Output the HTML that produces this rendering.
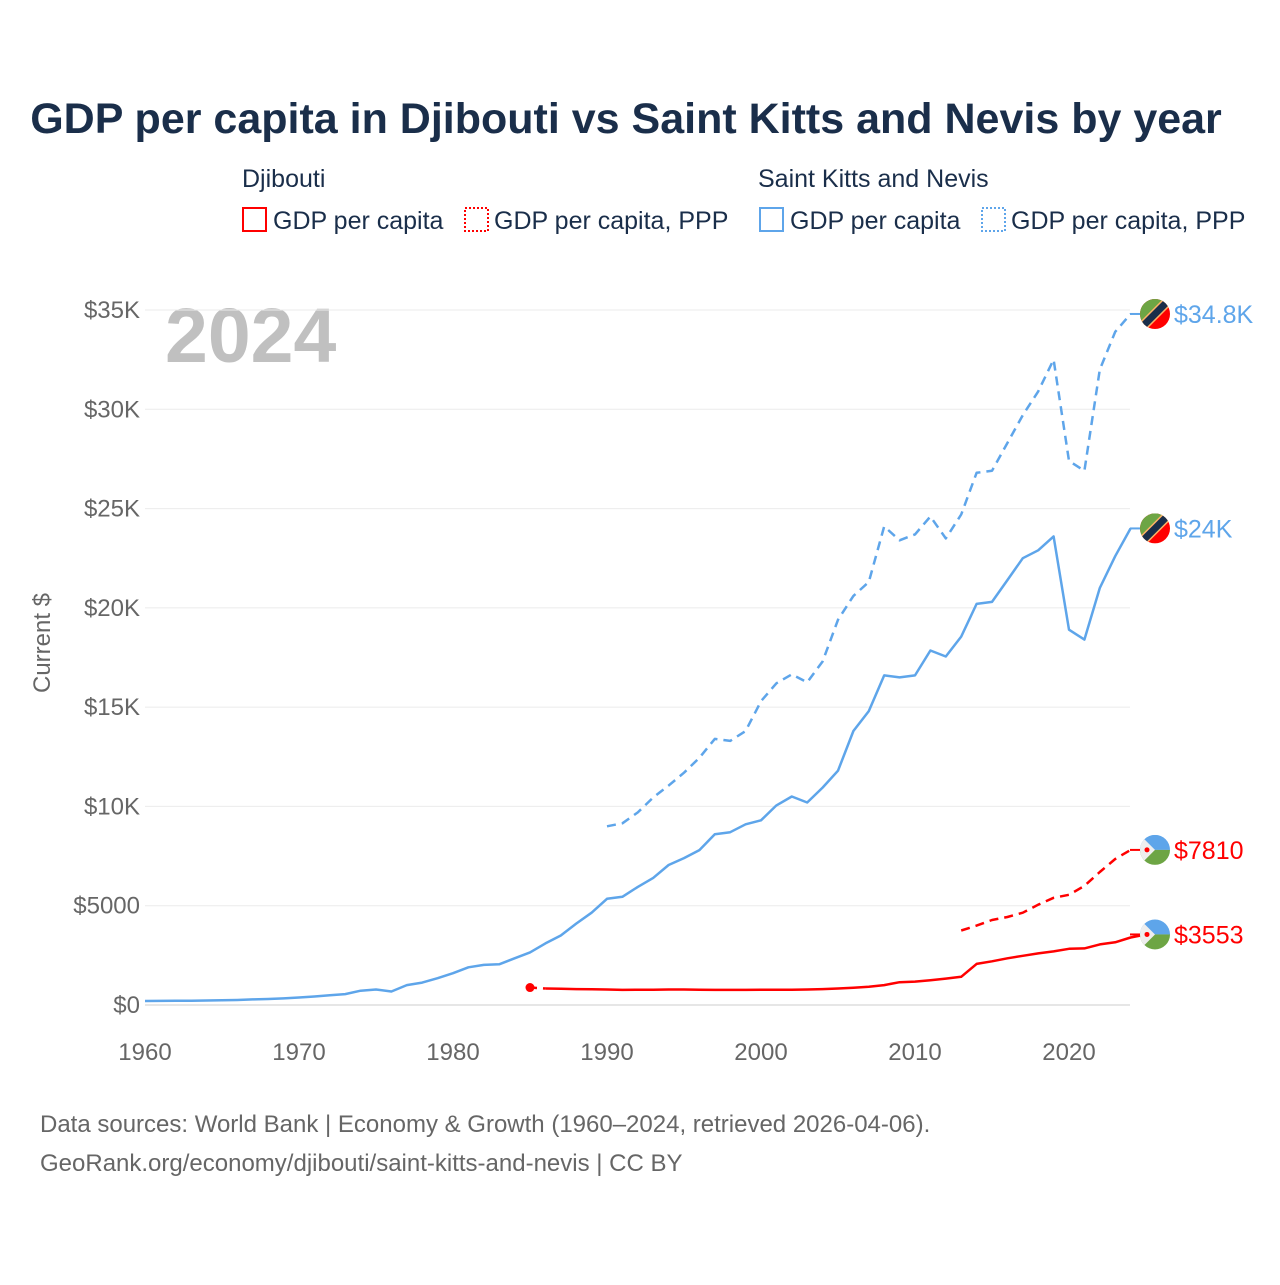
<!DOCTYPE html>
<html><head><meta charset="utf-8"><style>
body{margin:0;background:#fff;}
svg text{font-family:"Liberation Sans",sans-serif;}
</style></head><body>
<svg id="chart" width="1280" height="1280" xmlns="http://www.w3.org/2000/svg">
<rect width="1280" height="1280" fill="#fff"/>
<text x="626" y="133" text-anchor="middle" font-size="43" font-weight="bold" fill="#1a2e4a">GDP per capita in Djibouti vs Saint Kitts and Nevis by year</text>
<g font-size="25" fill="#1a2e4a">
<text x="242" y="187">Djibouti</text>
<text x="758" y="187">Saint Kitts and Nevis</text>
<g><rect x="243" y="208" width="23" height="23" fill="none" stroke="#f00" stroke-width="2"/><text x="273" y="229">GDP per capita</text></g>
<g><rect x="465" y="208" width="23" height="23" fill="none" stroke="#f00" stroke-width="2" stroke-dasharray="2,2"/><text x="494" y="229">GDP per capita, PPP</text></g>
<g><rect x="760" y="208" width="23" height="23" fill="none" stroke="#5ea5ea" stroke-width="2"/><text x="790" y="229">GDP per capita</text></g>
<g><rect x="982" y="208" width="23" height="23" fill="none" stroke="#5ea5ea" stroke-width="2" stroke-dasharray="2,2"/><text x="1011" y="229">GDP per capita, PPP</text></g>
</g>
<text x="165" y="362" font-size="77" font-weight="bold" fill="#c0c0c0">2024</text>
<text transform="translate(50,643) rotate(-90)" text-anchor="middle" font-size="24" fill="#666">Current $</text>
<g id="grid"></g><g id="yt"></g><g id="xt"></g><g id="lines"></g><g id="ends"></g>
<text x="40" y="1132" font-size="24" fill="#666">Data sources: World Bank | Economy &amp; Growth (1960–2024, retrieved 2026-04-06).</text>
<text x="40" y="1171" font-size="24" fill="#666">GeoRank.org/economy/djibouti/saint-kitts-and-nevis | CC BY</text>
</svg>
<script>
const yTicks=[0,5000,10000,15000,20000,25000,30000,35000];
const yTickLabels=["$0","$5000","$10K","$15K","$20K","$25K","$30K","$35K"];
const xTicks=[1960,1970,1980,1990,2000,2010,2020];
const sknGdpStart=1960;
const sknGdp=[200,205,210,215,225,235,250,280,300,330,380,430,490,550,720,780,680,1000,1130,1350,1600,1900,2020,2050,2350,2650,3100,3500,4100,4650,5350,5450,5950,6400,7050,7400,7800,8600,8700,9100,9300,10050,10500,10200,10950,11800,13800,14800,16600,16500,16600,17850,17550,18550,20200,20300,21400,22500,22900,23600,18900,18400,21000,22600,24000];
const sknPppStart=1990;
const sknPpp=[9000,9150,9700,10450,11050,11700,12450,13400,13300,13800,15300,16200,16650,16250,17300,19400,20600,21300,24100,23400,23700,24600,23500,24700,26800,26900,28300,29700,30900,32500,27400,26900,32000,33900,34800];
const djGdpStart=1986;
const djGdp=[830,820,800,790,780,760,770,770,780,780,770,760,760,760,770,770,770,780,800,830,870,920,1000,1150,1180,1250,1330,1420,2070,2200,2350,2480,2600,2700,2830,2850,3050,3160,3400,3553];
const djFirst=[1985,880];
const djPppStart=2013;
const djPpp=[3750,4000,4280,4430,4650,5050,5400,5550,6000,6700,7350,7810];
const endLabels=["$34.8K","$24K","$7810","$3553"];
const NS="http://www.w3.org/2000/svg";
const X=y=>145+(y-1960)*(985.6/64);
const Y=v=>1005-v*(695/35000);
function mk(t,a,p){const e=document.createElementNS(NS,t);for(const k in a)e.setAttribute(k,a[k]);p.appendChild(e);return e;}
const grid=document.getElementById('grid'),yt=document.getElementById('yt'),xt=document.getElementById('xt'),lines=document.getElementById('lines'),ends=document.getElementById('ends');
yTicks.forEach((v,i)=>{
 const l=mk('line',{x1:145,x2:1130,y1:Y(v),y2:Y(v),stroke:i==0?'#e6e6e6':'#ebebeb','stroke-width':i==0?2:1},grid);
 
 
 const t=mk('text',{x:140,y:Y(v)+8,'text-anchor':'end','font-size':24,fill:'#666'},yt);t.textContent=yTickLabels[i];
 
 
});
xTicks.forEach(y=>{const t=mk('text',{x:X(y),y:1060,'text-anchor':'middle','font-size':24,fill:'#666'},xt);t.textContent=y;
 
 });
function series(start,vals,color,dash,name){
 const d=vals.map((v,i)=>(i?'L':'M')+X(start+i).toFixed(1)+','+Y(v).toFixed(1)).join(' ');
 const p=mk('path',{d:d,fill:'none',stroke:color,'stroke-width':2.5,'stroke-linejoin':'round'},lines);
 if(dash)p.setAttribute('stroke-dasharray',dash);
 
 
}
series(sknPppStart,sknPpp,'#5ea5ea','9,6','line-skn-ppp');
series(sknGdpStart,sknGdp,'#5ea5ea',null,'line-skn-gdp');
series(djPppStart,djPpp,'#f00','9,6','line-dj-ppp');
series(djGdpStart,djGdp,'#f00',null,'line-dj-gdp');
const seg=mk('path',{d:`M${X(djFirst[0])},${Y(djFirst[1])} L${X(djGdpStart)},${Y(djGdp[0])}`,stroke:'#f00','stroke-width':2.5,'stroke-dasharray':'7,6',fill:'none'},lines);


const dot=mk('circle',{cx:X(djFirst[0]),cy:Y(djFirst[1]),r:4.5,fill:'#f00'},lines);


const endVals=[sknPpp[sknPpp.length-1],sknGdp[sknGdp.length-1],djPpp[djPpp.length-1],djGdp[djGdp.length-1]];
endVals.forEach((v,i)=>{
 const skn=i<2,cy=Y(v),cx=1155;
 const g=mk('g',{},ends);
 
 
 mk('line',{x1:1130,x2:1140,y1:cy,y2:cy,stroke:skn?'#5ea5ea':'#f00','stroke-width':2},g);
 const id='c'+i;
 const cp=mk('clipPath',{id:id},g);mk('circle',{cx:cx,cy:cy,r:15},cp);
 const f=mk('g',{'clip-path':`url(#${id})`},g);
 if(skn){
  mk('rect',{x:cx-15,y:cy-15,width:30,height:30,fill:'#f00'},f);
  mk('polygon',{points:`${cx-15},${cy-15} ${cx+15},${cy-15} ${cx-15},${cy+15}`,fill:'#6da544'},f);
  mk('line',{x1:cx-15,y1:cy+15,x2:cx+15,y2:cy-15,stroke:'#ffb266','stroke-width':10},f);
  mk('line',{x1:cx-15,y1:cy+15,x2:cx+15,y2:cy-15,stroke:'#1a2e4a','stroke-width':7},f);
 }else{
  mk('rect',{x:cx-15,y:cy-15,width:30,height:15,fill:'#5ea5ea'},f);
  mk('rect',{x:cx-15,y:cy,width:30,height:15,fill:'#6da544'},f);
  mk('polygon',{points:`${cx-15},${cy-15} ${cx},${cy} ${cx-15},${cy+15}`,fill:'#eee'},f);
  mk('circle',{cx:cx-8,cy:cy,r:2.5,fill:'#f00'},f);
 }
 const t=mk('text',{x:1174,y:cy+9,'font-size':25,fill:skn?'#5ea5ea':'#f00'},g);t.textContent=endLabels[i];
});
</script>
</body></html>
